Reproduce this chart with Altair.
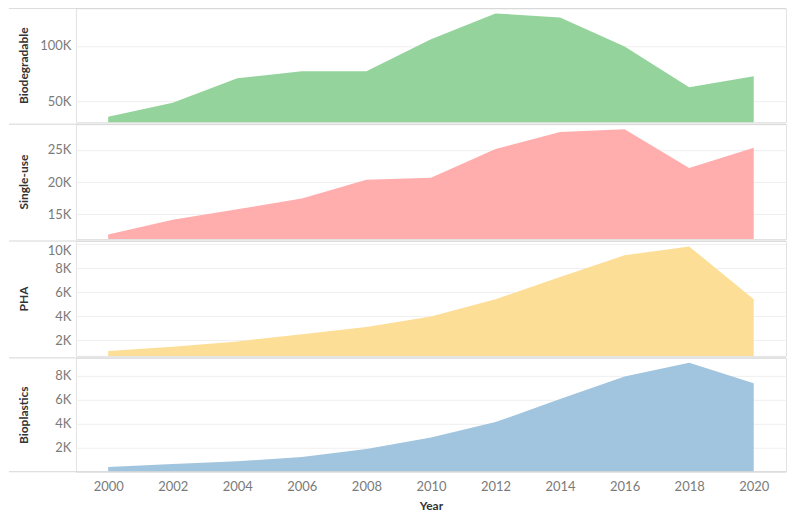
import altair as alt
import pandas as pd

years = [2000, 2002, 2004, 2006, 2008, 2010, 2012, 2014, 2016, 2018, 2020]
biodegradable = [35900, 48500, 70700, 77000, 77000, 106000, 129400, 125800, 99500, 62600, 72500]
single_use = [11900, 14200, 15800, 17500, 20400, 20700, 25150, 27800, 28200, 22200, 25350]
pha = [1100, 1450, 1900, 2500, 3100, 3970, 5400, 7250, 9060, 9800, 5400]
bioplastics = [390, 640, 870, 1220, 1890, 2860, 4140, 6060, 7940, 9100, 7390]

names = ["Biodegradable", "Single-use", "PHA", "Bioplastics"]
series = [biodegradable, single_use, pha, bioplastics]
domains = [[31000, 134000], [11200, 29000], [700, 10250], [0, 9500]]
ticks = [[50000, 100000], [15000, 20000, 25000], [2000, 4000, 6000, 8000, 10000], [2000, 4000, 6000, 8000]]
colors = ["#94D39B", "#FFADAD", "#FDDE97", "#A1C5DE"]
heights = [114, 115, 115, 114]
x_ticks = years

W = 711
FONT = "Lato"
one = pd.DataFrame({"a": [0]})


def panel(i):
    name, vals, dom, tk, col, h = names[i], series[i], domains[i], ticks[i], colors[i], heights[i]
    last = i == len(names) - 1
    df = pd.DataFrame({"Year": years, "Value": vals})
    if last:
        xaxis = alt.Axis(values=x_ticks, format="d", title="Year", grid=False, ticks=False,
                         domain=False, labelPadding=9, titlePadding=7)
    else:
        xaxis = None
    area = alt.Chart(df).mark_area(color=col, opacity=1).encode(
        x=alt.X("Year:Q", scale=alt.Scale(domain=[1999, 2021], nice=False, zero=False), axis=xaxis),
        y=alt.Y("Value:Q", stack=None, scale=alt.Scale(domain=dom, zero=False, nice=False),
                axis=alt.Axis(values=tk, labelExpr="datum.value / 1000 + 'K'", title=name,
                              titleX=-48, titleY=h / 2, titleAngle=-90, titleAlign="center",
                              titleBaseline="alphabetic", labelFlush=8, grid=True,
                              gridColor="#efefef", ticks=False, domain=False, labelPadding=5)),
        y2=alt.value(h),
    )
    layers = [area,
              alt.Chart(one).mark_rule(color="#d6d6d6", strokeWidth=1).encode(
                  x=alt.value(-67), x2=alt.value(W), y=alt.value(0))]
    if last:
        layers.append(alt.Chart(one).mark_rule(color="#d6d6d6", strokeWidth=1).encode(
            x=alt.value(-67), x2=alt.value(W), y=alt.value(h)))
    return alt.layer(*layers).properties(width=W, height=h)


chart = alt.vconcat(*[panel(i) for i in range(4)], spacing=0).resolve_scale(
    x="independent", y="independent"
).properties(
    padding={"left": 0, "top": -1, "right": 0, "bottom": 0}
).configure_view(
    stroke="#e2e2e2"
).configure_axis(
    labelFont=FONT, titleFont=FONT, labelFontSize=13, titleFontSize=12,
    labelColor="#7a7a7a", titleColor="#333333", titleFontWeight="bold"
)

chart.save("out.html", embed_options={"renderer": "svg", "actions": False})
